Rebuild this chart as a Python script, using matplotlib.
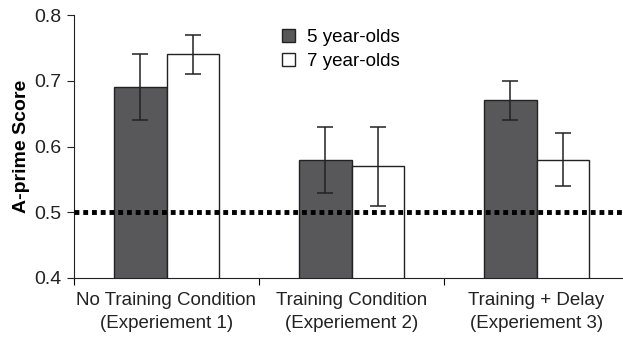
import numpy as np
import matplotlib.pyplot as plt

plt.rcParams["font.family"] = ["Liberation Sans", "DejaVu Sans"]

conditions = ["No Training Condition\n(Experiement 1)",
              "Training Condition\n(Experiement 2)",
              "Training + Delay\n(Experiement 3)"]
five_mean = [0.69, 0.58, 0.67]
five_err = [0.05, 0.05, 0.03]
seven_mean = [0.74, 0.57, 0.58]
seven_err = [0.03, 0.06, 0.04]

fig = plt.figure(figsize=(6.23, 3.41), dpi=100)
ax = fig.add_axes([74 / 623, 63 / 341, 555 / 623, 263 / 341])

x = np.arange(len(conditions))
w = 0.286
ebar = dict(ecolor="#222222", elinewidth=1.1, capsize=6, capthick=1.1)
ax.bar(x - w / 2, five_mean, w, yerr=five_err, color="#58585a",
       edgecolor="#222222", linewidth=1, label="5 year-olds", error_kw=ebar, zorder=2)
ax.bar(x + w / 2, seven_mean, w, yerr=seven_err, color="white",
       edgecolor="#222222", linewidth=1, label="7 year-olds", error_kw=ebar, zorder=2)

ax.axhline(0.5, color="black", linestyle=(0, (1, 0.8)), linewidth=3.5, zorder=3)

ax.set_xlim(-0.5, 2.5)
ax.set_ylim(0.4, 0.8)
ax.set_yticks([0.4, 0.5, 0.6, 0.7, 0.8])
ax.set_yticklabels(["0.4", "0.5", "0.6", "0.7", "0.8"])
ax.set_xticks([-0.5, 0.5, 1.5, 2.5])
ax.set_xticklabels([])
ax.set_xticks(x, minor=True)
ax.set_xticklabels(conditions, minor=True, fontsize=13.5, color="#222222",
                   linespacing=1.5)
ax.tick_params(axis="x", which="minor", length=0, pad=10)
ax.tick_params(axis="x", which="major", length=5, direction="out")
ax.tick_params(axis="y", labelsize=14, length=5, colors="#222222", pad=4)
for s in ["top", "right"]:
    ax.spines[s].set_visible(False)
ax.spines["left"].set_color("#222222")
ax.spines["bottom"].set_color("#222222")

ax.set_ylabel("A-prime Score", fontsize=14, fontweight="bold", labelpad=3)

ax.legend(loc="upper left", bbox_to_anchor=(0.345, 1.01), frameon=False,
          fontsize=13.5, handlelength=0.7, handleheight=0.7, handletextpad=0.6,
          labelspacing=0.35)

fig.savefig("out.png", dpi=100)
